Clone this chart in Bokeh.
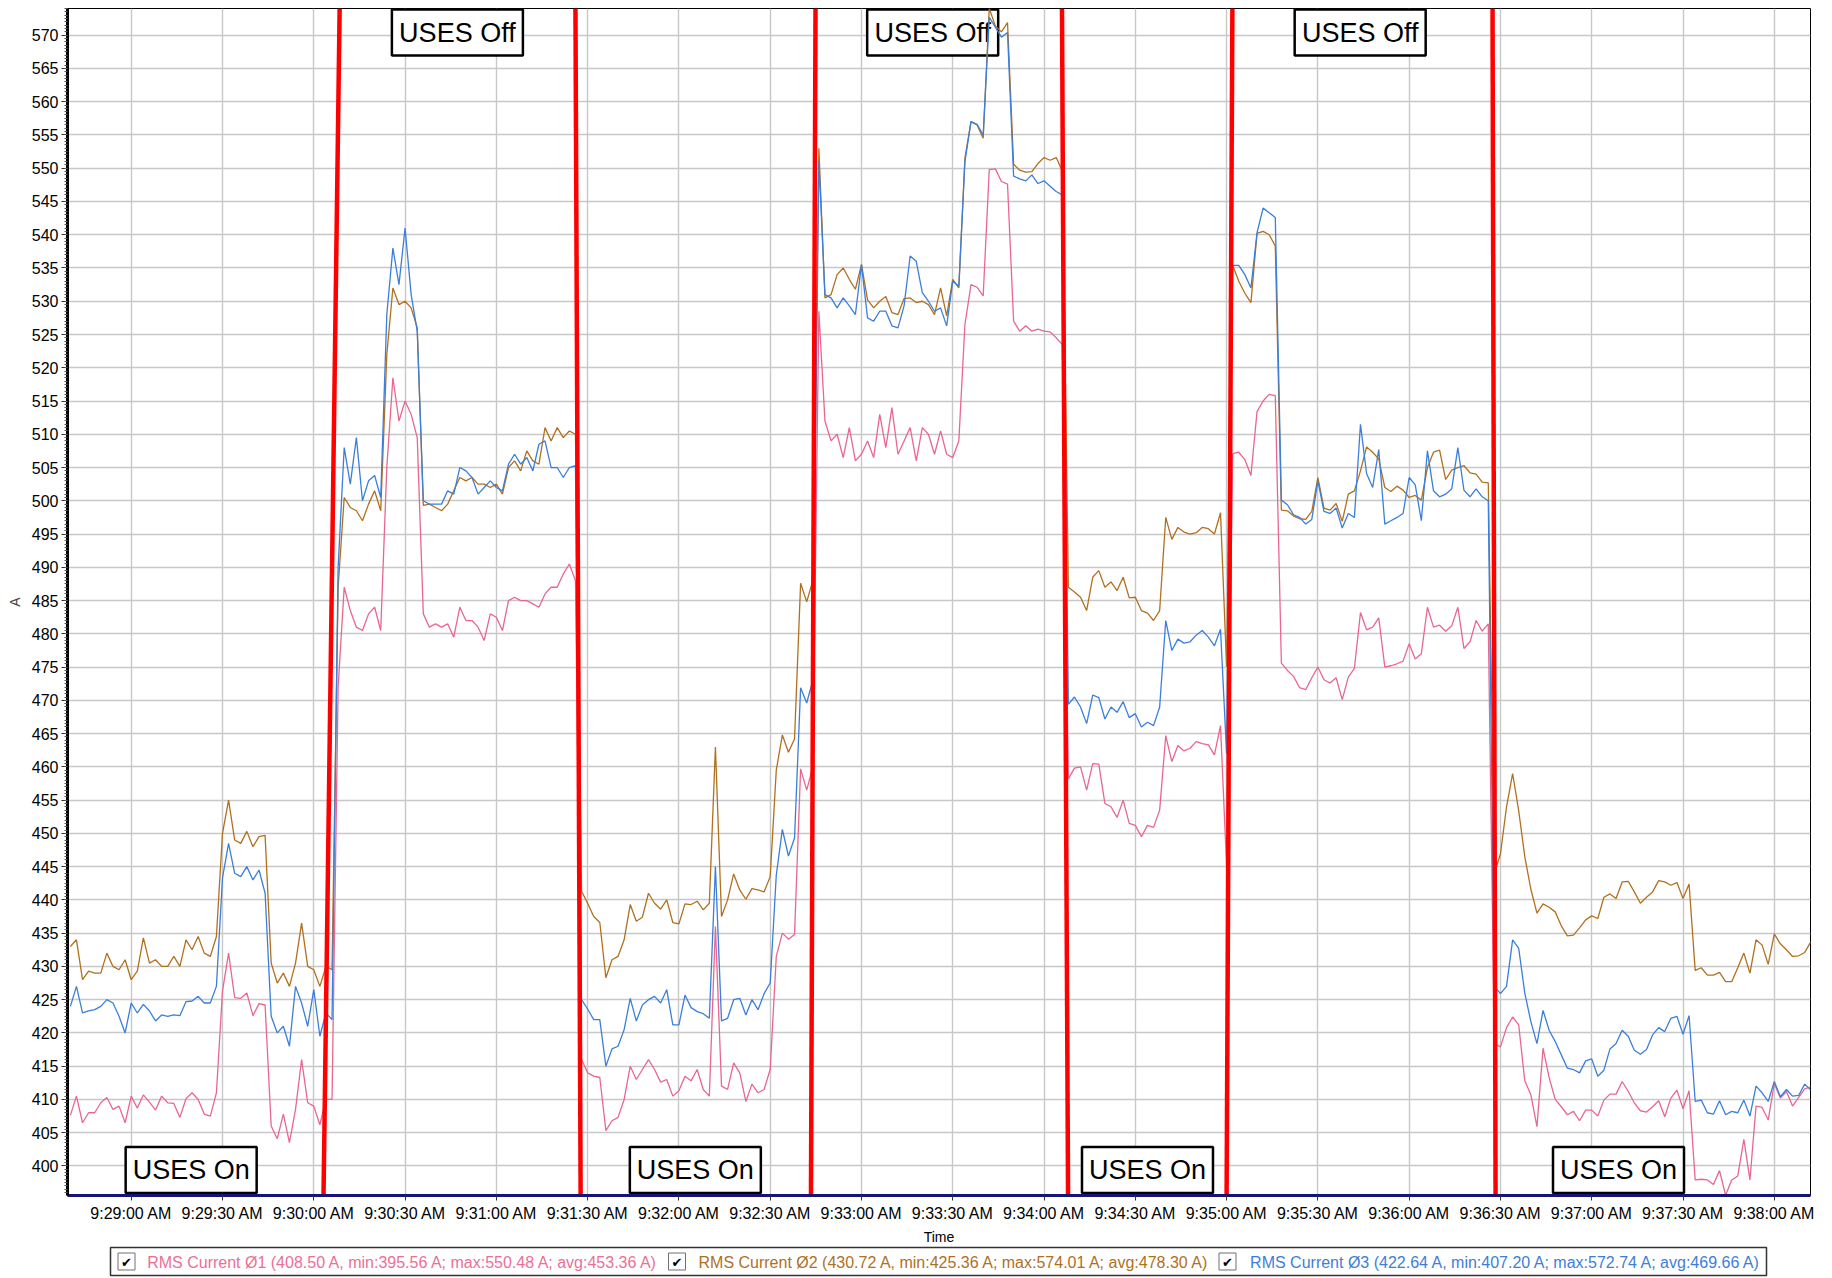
import pandas as pd
from bokeh.plotting import figure
from bokeh.models import Range1d, FixedTicker, SingleIntervalTicker, DatetimeTickFormatter, ColumnDataSource
from bokeh.layouts import column
from bokeh.embed import file_html
from bokeh.resources import INLINE
from bokeh.core.properties import value

DAY = "2020-01-01 "
START = "09:28:40"
STEP = "2s"

# RMS Current phase 1 (pink)
PHASE1 = [
    407.6, 410.5, 406.5, 408, 408, 409.5, 410.3, 408.5, 409, 406.5,
    410.5, 408.7, 410.7, 409.6, 408.4, 410.5, 409.5, 409.4, 407.3, 410.1,
    411, 410, 407.8, 407.5, 411, 426.3, 432, 425.3, 425.2, 426,
    422.6, 424.4, 424.2, 406, 404.1, 407.8, 403.5, 408.5, 416, 409.5,
    409, 406.2, 410, 410, 472, 487, 483.5, 481, 480.5, 483,
    484, 480.5, 505, 518.5, 512, 515, 513, 509.5, 483, 481,
    481.5, 481, 481.5, 479.5, 484, 482, 482, 481, 479, 483,
    482.5, 480.5, 485, 485.5, 485, 485, 484.5, 484, 486, 487,
    487, 489, 490.5, 488, 416, 414, 413.5, 413.3, 405.3, 406.8,
    407.3, 410, 415, 413, 414.5, 416, 414.5, 412.6, 413, 410.5,
    411.3, 413.5, 412.8, 414.5, 411.5, 410.5, 436, 412, 411.5, 415.5,
    414, 409.7, 412.3, 411, 411.5, 414.5, 431.5, 435, 434.1, 434.8,
    459.7, 456.5, 460, 528.5, 512, 509, 510, 506.5, 511, 506,
    507, 509, 506.5, 513, 508, 514, 507, 509, 511, 506,
    511, 510, 507, 510.5, 507, 506.5, 509, 526.5, 532.5, 532.1,
    530.8, 549.8, 549.9, 548, 547.6, 527, 525.5, 526.3, 525.5, 525.8,
    525.5, 525.4, 524.5, 523.5, 458.2, 459.8, 460, 456.5, 460.5, 460.4,
    454.5, 454, 452.4, 455, 451.5, 451.2, 449.5, 451.2, 450.9, 453.5,
    464.7, 460.8, 463.2, 462.4, 462.8, 463.8, 463.5, 463.3, 461.8, 466.2,
    445, 507.1, 507.3, 506.2, 503.8, 513.4, 515, 516, 515.8, 475.6,
    474.5, 473.6, 471.9, 471.6, 473.4, 475, 473.1, 472.6, 473.4, 470.1,
    473.5, 474.8, 483.2, 480.6, 481, 482.4, 475, 475.2, 475.5, 475.9,
    478.5, 476.2, 477, 484, 481, 481.3, 480.4, 481.2, 484, 477.8,
    478.8, 482, 480.4, 481.5, 418.4, 417.9, 420.8, 422.4, 421.2, 412.8,
    410.7, 405.9, 417.7, 413.3, 410, 408.9, 407.7, 408.2, 406.8, 408.4,
    408.4, 407.5, 409.9, 410.8, 410.8, 412.7, 411.2, 409.5, 408.3, 408.1,
    408.9, 409.8, 407.4, 410.2, 411.4, 408.6, 411.3, 397.9, 398, 397.9,
    397.2, 399.3, 395.6, 397.9, 398.5, 404, 397.9, 409, 408.8, 406.9,
    412.4, 410.2, 411.2, 409, 410.3, 411.6, 411.9,
]

# RMS Current phase 2 (brown)
PHASE2 = [
    433, 434, 428, 429.3, 429, 429, 432, 430, 429.5, 431,
    428, 429.3, 434.3, 430.5, 431, 430, 430, 431.5, 430, 434,
    432.5, 434.5, 432, 431.5, 434.5, 450, 455, 449, 448.5, 450.3,
    448, 449.5, 449.7, 430.5, 427.5, 429, 427, 430.5, 436.5, 430,
    429.5, 427, 430, 429.5, 487, 500.5, 499, 498.5, 497, 499.5,
    501.5, 498.5, 522, 532, 529.5, 530, 529, 526, 499.3, 499.5,
    499, 498.5, 499.5, 501.5, 503.5, 503, 503.5, 502.5, 502.5, 502,
    502.5, 501, 505, 506, 504.5, 507.5, 506, 505.5, 511, 509,
    511, 509.5, 510.5, 510, 441.3, 439.5, 437.5, 436.6, 428.3, 431,
    431.5, 434, 439.3, 436.8, 437.4, 441, 439.5, 438.6, 440, 436.6,
    436.4, 439.4, 439.3, 439.8, 438.5, 439.5, 463, 437.5, 440, 443.9,
    441.5, 440.1, 441.7, 441.5, 441.2, 443.5, 459.5, 464.8, 462.2, 464.2,
    487.6, 484.8, 488, 553, 530.5, 531, 534, 535, 533.3, 531.8,
    535.5, 530.2, 529, 530, 530.7, 528.3, 528, 530.4, 530.5, 529.8,
    530, 529.5, 528, 532, 527.8, 533.3, 532, 551.5, 557, 556.5,
    554.5, 574.0, 571.4, 570.5, 571.9, 550.6, 549.7, 549.4, 549.5, 550.7,
    551.6, 551.2, 551.6, 549.6, 487, 486.3, 485.5, 483.5, 488.5, 489.5,
    487, 487.8, 486.5, 488.5, 485.4, 485.5, 483.5, 483.1, 482, 483.5,
    497.5, 494.2, 496, 495.3, 495, 495.2, 496, 495.8, 495, 498.2,
    475, 535.4, 533, 531.2, 529.8, 540.2, 540.5, 540, 538.3, 498.6,
    498.5, 497.7, 497.3, 497.2, 498.4, 503.5, 498.9, 498.6, 499.6, 496.9,
    501, 501.5, 504.5, 508.1, 507.3, 506.3, 502, 501.4, 502.2, 501.6,
    500.5, 500.8, 500.1, 505, 507.3, 507.6, 503.2, 504.6, 505, 505.3,
    504.2, 504, 502.8, 502.7, 444, 446.9, 454, 459, 453.4, 446.5,
    441.6, 438, 439.4, 438.9, 438.2, 436.1, 434.6, 434.7, 435.8, 437,
    437.6, 437.2, 440.4, 440.9, 440.2, 442.7, 442.8, 441.2, 439.5, 440.4,
    441.2, 442.9, 442.7, 442.2, 442.6, 440.2, 442.4, 429.4, 429.8, 428.7,
    428.7, 429.1, 427.7, 427.7, 429.8, 432, 429, 434, 433.2, 430.3,
    434.9, 433.4, 432.5, 431.5, 431.6, 432.1, 433.7,
]

# RMS Current phase 3 (blue)
PHASE3 = [
    424, 427, 423, 423.3, 423.5, 424, 425, 424.5, 422.5, 420,
    424.5, 423, 424.3, 423.3, 421.8, 422.7, 422.5, 422.7, 422.6, 424.7,
    424.8, 425.5, 424.5, 424.5, 427, 443.3, 448.5, 444, 443.5, 445,
    443, 444.5, 441, 422.5, 420, 421, 418, 427, 424.5, 421,
    426.5, 419.5, 423, 422, 490, 508, 502.5, 509.5, 500, 503,
    503.8, 500.5, 528, 538, 532.5, 541, 531, 525.5, 500, 499.5,
    499.5, 499.5, 501.5, 501, 505, 504.5, 503.5, 501, 502, 503,
    502, 501.5, 505.5, 507, 505.5, 506.5, 504.5, 508.5, 509, 505,
    505, 503.5, 505, 505.3, 425, 423.6, 422, 422, 415, 417.6,
    418, 420.5, 425.2, 421.8, 424.2, 425, 425.5, 424.5, 426.5, 421.2,
    421.2, 425.7, 423.8, 423.2, 422.9, 422.2, 445, 421.8, 422.2, 425,
    425.2, 422.7, 425, 423.5, 425.9, 427.5, 443.7, 450.6, 446.6, 449.3,
    471.9, 469.6, 473, 551, 531, 530.5, 529, 530.5, 529.3, 528,
    535.5, 527.5, 527, 528.5, 528.5, 526.3, 526, 529.3, 536.8, 536,
    531.3, 530, 528.5, 529, 526.3, 533, 532.3, 551, 557, 556.6,
    555, 572.7, 571.2, 569.7, 570.4, 548.8, 548.4, 548.1, 549, 547.7,
    548.1, 547.3, 546.5, 546, 469.4, 470.5, 469, 466.5, 470.8, 470.4,
    467.2, 469, 468.2, 469.8, 467.4, 468, 466, 466.7, 466.2, 469,
    482, 477.5, 479.2, 478.6, 478.8, 479.8, 480.5, 479.5, 478.2, 480.7,
    462, 535.4, 535.4, 534, 532, 540.3, 544, 543.3, 542.6, 500.1,
    499.4, 497.9, 497.5, 496.5, 497.2, 503, 498.4, 498.1, 498.9, 495.9,
    498.1, 497.5, 511.5, 504.1, 502, 507.7, 496.5, 497, 497.5, 498.1,
    503.5, 502.4, 497, 507.5, 501.5, 500.6, 501, 501.8, 508, 501.6,
    500.6, 501.8, 500.6, 500, 427, 425.9, 427, 434, 432.7, 426,
    421.7, 418.4, 423.4, 420.4, 418.7, 416.7, 414.7, 414.5, 414, 415.8,
    416.1, 413.5, 414.4, 417.6, 418.4, 420.4, 419.5, 417.4, 416.8, 417.5,
    419.7, 420.8, 420.2, 422.2, 422.5, 419.8, 422.6, 409.7, 409.9, 408,
    407.8, 409.8, 407.7, 408.2, 408, 409.9, 407.5, 412, 411, 409.7,
    412.7, 410.4, 411.5, 410.5, 410.6, 412.3, 411.4,
]

X_TICKS = ["09:29:00", "09:29:30", "09:30:00", "09:30:30", "09:31:00", "09:31:30",
           "09:32:00", "09:32:30", "09:33:00", "09:33:30", "09:34:00", "09:34:30",
           "09:35:00", "09:35:30", "09:36:00", "09:36:30", "09:37:00", "09:37:30",
           "09:38:00"]
X_START, X_END = "09:28:39.06", "09:38:11.9"
Y_MIN, Y_MAX = 395.56, 574.01

# hand-drawn red switch markers (time at top edge, time at bottom edge)
MARKER_TOP = ["09:30:08.5", "09:31:26.0", "09:32:44.9", "09:34:05.9", "09:35:01.9", "09:36:27.4"]
MARKER_BOTTOM = ["09:30:03.2", "09:31:27.7", "09:32:43.4", "09:34:07.9", "09:35:00.0", "09:36:28.4"]

BOX_TEXT = ["USES Off", "USES Off", "USES Off", "USES On", "USES On", "USES On", "USES On"]
BOX_TIME = ["09:30:47.2", "09:33:23.4", "09:35:43.9", "09:29:19.7", "09:32:05.4", "09:34:34.0", "09:37:08.8"]
BOX_LEVEL = [570.4, 570.4, 570.4, 399.4, 399.4, 399.4, 399.4]

LEGEND_LABELS = [
    "RMS Current \u00d81 (408.50 A, min:395.56 A; max:550.48 A; avg:453.36 A)",
    "RMS Current \u00d82 (430.72 A, min:425.36 A; max:574.01 A; avg:478.30 A)",
    "RMS Current \u00d83 (422.64 A, min:407.20 A; max:572.74 A; avg:469.66 A)",
]
LINE_COLORS = ["#E9678F", "#B2701E", "#3A7FDB"]
TEXT_COLORS = ["#EC6F97", "#B0701E", "#3D7EDA"]

# page geometry (px)
W, FRAME_L, FRAME_R = 1832, 67, 1810
H_MAIN, FRAME_T, FRAME_B = 1226, 8, 1195
H_LEG = 52


def t(s):
    return pd.Timestamp(DAY + s)


p = figure(width=W, height=H_MAIN, x_axis_type="datetime",
           x_range=Range1d(t(X_START), t(X_END)), y_range=Range1d(Y_MIN, Y_MAX),
           output_backend="svg", toolbar_location=None,
           min_border_left=FRAME_L, min_border_right=W - FRAME_R,
           min_border_top=FRAME_T, min_border_bottom=H_MAIN - FRAME_B)
p.background_fill_color = "white"
p.border_fill_color = "white"
p.outline_line_color = "black"
p.outline_line_width = 1

# x axis
p.xaxis.ticker = FixedTicker(ticks=[t(s).value / 1e6 for s in X_TICKS], minor_ticks=[])
fmt = "%-I:%M:%S %p"
p.xaxis.formatter = DatetimeTickFormatter(seconds=fmt, minsec=fmt, minutes=fmt, hourmin=fmt,
                                          hours=fmt, milliseconds=fmt)
p.xaxis.axis_line_color = "#14147a"
p.xaxis.axis_line_width = 3
p.xaxis.major_tick_line_color = "#333333"
p.xaxis.major_tick_out = 5
p.xaxis.major_tick_in = 0
p.xaxis.major_label_standoff = 4
p.xaxis.major_label_text_font = "Liberation Sans"
p.xaxis.major_label_text_font_size = "16px"
p.xaxis.major_label_text_color = "black"

# y axis
p.yaxis.ticker = SingleIntervalTicker(interval=5, num_minor_ticks=10)
p.yaxis.axis_label = "A"
p.yaxis.axis_line_color = "black"
p.yaxis.axis_line_width = 3
p.yaxis.major_tick_line_color = "#333333"
p.yaxis.major_tick_out = 6
p.yaxis.major_tick_in = 0
p.yaxis.minor_tick_line_color = "#555555"
p.yaxis.minor_tick_out = 3
p.yaxis.minor_tick_in = 0
p.yaxis.major_label_standoff = 3
p.yaxis.major_label_text_font = "Liberation Sans"
p.yaxis.major_label_text_font_size = "16px"
p.yaxis.major_label_text_color = "black"
p.yaxis.axis_label_text_font = "Liberation Sans"
p.yaxis.axis_label_text_font_size = "14px"
p.yaxis.axis_label_text_font_style = "normal"
p.yaxis.axis_label_standoff = 6

p.grid.grid_line_color = "#c8c8c8"
p.grid.grid_line_width = 1.4

# annotation boxes (under the data lines)
box_src = ColumnDataSource(dict(x=[t(s) for s in BOX_TIME], y=BOX_LEVEL, text=BOX_TEXT))
p.rect(x="x", y="y", width=131, height=46, width_units="screen", height_units="screen",
       source=box_src, fill_color="white", line_color="black", line_width=2.5)
p.text(x="x", y="y", text="text", source=box_src, text_align="center", text_baseline="middle",
       text_font=value("Liberation Sans"), text_font_size="27px", text_color="black")

# data lines
for vals, col in zip([PHASE1, PHASE2, PHASE3], LINE_COLORS):
    times = pd.date_range(t(START), periods=len(vals), freq=STEP)
    p.line(times, vals, line_color=col, line_width=1.3)

# red markers
p.segment(x0=[t(s) for s in MARKER_TOP], y0=[Y_MAX] * len(MARKER_TOP),
          x1=[t(s) for s in MARKER_BOTTOM], y1=[Y_MIN] * len(MARKER_BOTTOM),
          line_color="#ff0000", line_width=4.5)

# strip below: axis title + legend, in page-pixel coordinates
top = H_MAIN
leg = figure(width=W, height=H_LEG, x_range=Range1d(FRAME_L, FRAME_R), y_range=Range1d(top + H_LEG, top),
             output_backend="svg", toolbar_location=None,
             min_border_left=FRAME_L, min_border_right=W - FRAME_R, min_border_top=0, min_border_bottom=0,
             x_axis_location=None, y_axis_location=None)
leg.grid.visible = False
leg.outline_line_color = None
leg.background_fill_color = "white"
leg.border_fill_color = "white"
leg.text(x=[(FRAME_L + FRAME_R) / 2], y=[top + 10], text=["Time"], text_align="center", text_baseline="middle",
         text_font=value("Liberation Sans"), text_font_size="14px", text_color="black")
box_top, box_bot = top + 21, top + 49
mid = (box_top + box_bot) / 2
leg.quad(left=110, right=1766, top=box_top, bottom=box_bot, fill_color="white",
         line_color="#333333", line_width=1.5)
CHECK_X = [126, 676.5, 1227]
TEXT_X = [146.7, 698, 1249.6]
leg.rect(x=CHECK_X, y=[mid] * 3, width=17, height=17, fill_color="white", line_color="#707070", line_width=1)
leg.text(x=CHECK_X, y=[mid + 0.5] * 3, text=["\u2714"] * 3, text_align="center", text_baseline="middle",
         text_font=value("DejaVu Sans"), text_font_size="13px", text_color="black")
leg.text(x=TEXT_X, y=[mid + 0.5] * 3, text=LEGEND_LABELS, text_align="left", text_baseline="middle",
         text_font=value("Liberation Sans"), text_font_size="16px", text_color=TEXT_COLORS)

layout = column(p, leg, spacing=0)
open("out.html", "w").write(file_html(layout, INLINE))
